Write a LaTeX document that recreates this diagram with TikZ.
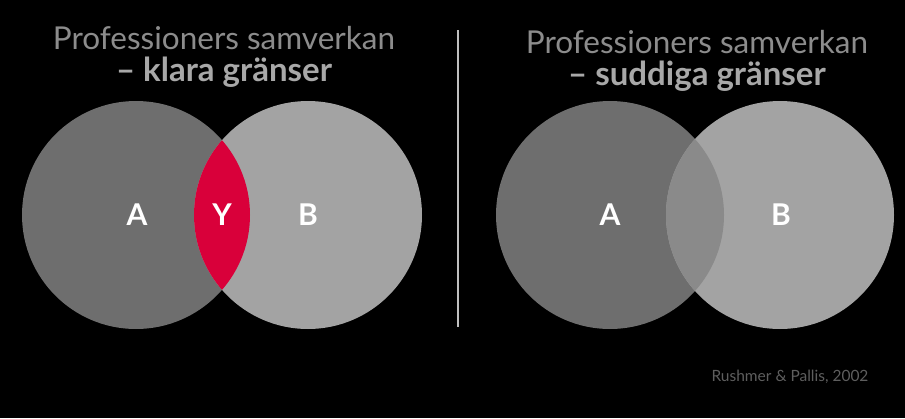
\documentclass[tikz,border=0pt]{standalone}
\usepackage{fontspec}
\setmainfont{Lato}
\begin{document}
\begin{tikzpicture}[x=1pt,y=-1pt,
  disc/.style={circle,inner sep=0pt,minimum size=228pt,draw=none},
  lbl/.style={text=white,font=\fontsize{30}{30}\selectfont\bfseries},
  titleA/.style={text=tgray,font=\fontsize{31.5}{31.5}\selectfont},
  titleB/.style={text=tgrayb,font=\fontsize{33}{33}\selectfont\bfseries}]
\definecolor{tgray}{HTML}{8C8C8C}
\definecolor{tgrayb}{HTML}{A8A8A8}
\definecolor{cA}{HTML}{6E6E6E}
\definecolor{cB}{HTML}{A3A3A3}
\definecolor{cOv}{HTML}{8A8A8A}
\definecolor{cRed}{HTML}{D9003A}
\definecolor{cite}{HTML}{5E5E5E}
\definecolor{divc}{HTML}{BFBFBF}
\fill[black] (0,0) rectangle (905,418);
\useasboundingbox (0,0) rectangle (905,418);
% left diagram
\node[disc,fill=cA] (LA) at (136,215) {};
\node[disc,fill=cB] (LB) at (308,215) {};
\begin{scope}
\clip (136,215) circle (114);
\fill[cRed] (308,215) circle (114);
\end{scope}
\node[lbl] (LAt) at (137,215) {A};
\node[lbl] (LYt) at (222,215) {Y};
\node[lbl] (LBt) at (308,215) {B};
% right diagram
\node[disc,fill=cA] (RA) at (610,215) {};
\node[disc,fill=cB] (RB) at (780,215) {};
\begin{scope}
\clip (610,215) circle (114);
\fill[cOv] (780,215) circle (114);
\end{scope}
\node[lbl] (RAt) at (610,215) {A};
\node[lbl] (RBt) at (781,215) {B};
% titles
\node[titleA] (LT1) at (224,38) {Professioners samverkan};
\node[titleB] (LT2) at (224,72) {– klara gränser};
\node[titleA] (RT1) at (697,42) {Professioners samverkan};
\node[titleB] (RT2) at (697,76) {– suddiga gränser};
% divider
\coordinate (d1) at (458,30);
\coordinate (d2) at (458,327);
\draw[divc,line width=2pt] (d1) -- (d2);
% citation
\node[text=cite,font=\fontsize{15.5}{15.5}\selectfont] (cit) at (790,377) {Rushmer \& Pallis, 2002};
\end{tikzpicture}
\end{document}
